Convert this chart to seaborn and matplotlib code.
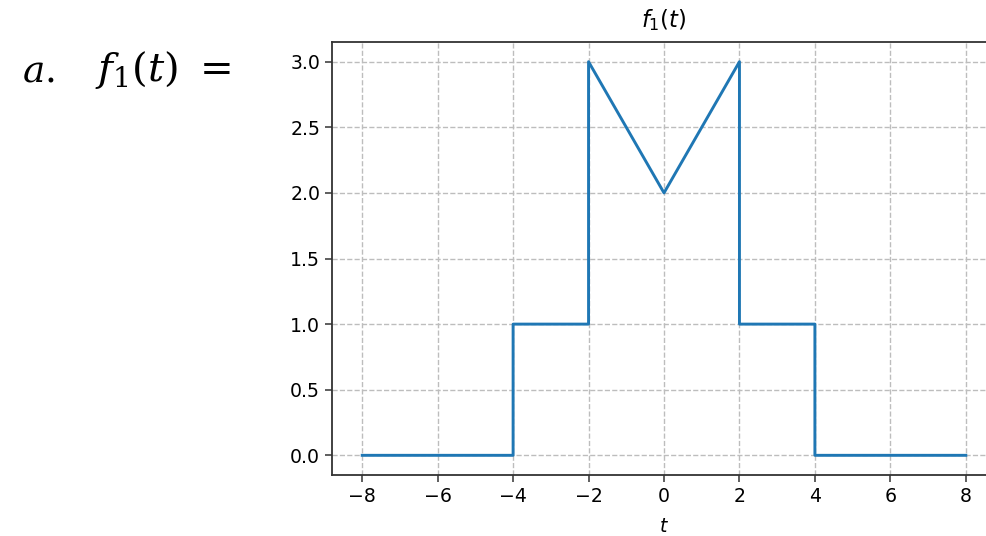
import matplotlib
matplotlib.use("Agg")
import matplotlib.pyplot as plt
import seaborn as sns
import pandas as pd

# piecewise signal f1(t), corner points
t_points = [-8, -4, -4, -2, -2, 0, 2, 2, 4, 4, 8]
f1_points = [0, 0, 1, 1, 3, 2, 3, 1, 1, 0, 0]
x_ticks = [-8, -6, -4, -2, 0, 2, 4, 6, 8]
y_ticks = [0.0, 0.5, 1.0, 1.5, 2.0, 2.5, 3.0]

df = pd.DataFrame({"t": t_points, "f1": f1_points})

plt.rcParams["font.family"] = ["DejaVu Sans"]
fs = 13.6

fig = plt.figure(figsize=(9.87, 5.36), dpi=100)
# the axes runs past the right edge of the screenshot, so the right spine is cut off
ax = fig.add_axes([0.3364, 0.1138, 0.6727, 0.8078])

sns.lineplot(data=df, x="t", y="f1", sort=False, estimator=None,
             color="#1f77b4", linewidth=2.1, ax=ax)

ax.set_xlim(-8.8, 8.8)
ax.set_ylim(-0.15, 3.15)
ax.set_xticks(x_ticks)
ax.set_yticks(y_ticks)
ax.set_xticklabels([f"{v:d}".replace("-", "\u2212") for v in x_ticks], fontsize=fs)
ax.set_yticklabels([f"{v:.1f}" for v in y_ticks], fontsize=fs)
ax.grid(True, linestyle="--", color="#bdbdbd", linewidth=1.0)
ax.tick_params(length=5, width=1.1, color="#333333")
for sp in ax.spines.values():
    sp.set_linewidth(1.3)
    sp.set_color("#333333")
ax.spines["right"].set_visible(False)

ax.set_title(r"$f_1(t)$", fontsize=16.3, pad=11)
ax.set_xlabel(r"$t$", fontsize=fs, labelpad=8)
ax.set_ylabel("")

# equation label on the left, as in the document
fig.text(0.022, 0.848, r"$a.$", fontsize=27, math_fontfamily="dejavuserif", va="baseline")
fig.text(0.096, 0.848, r"$f_1(t)\ =$", fontsize=29, math_fontfamily="dejavuserif", va="baseline")

fig.savefig("out.png", dpi=100)
